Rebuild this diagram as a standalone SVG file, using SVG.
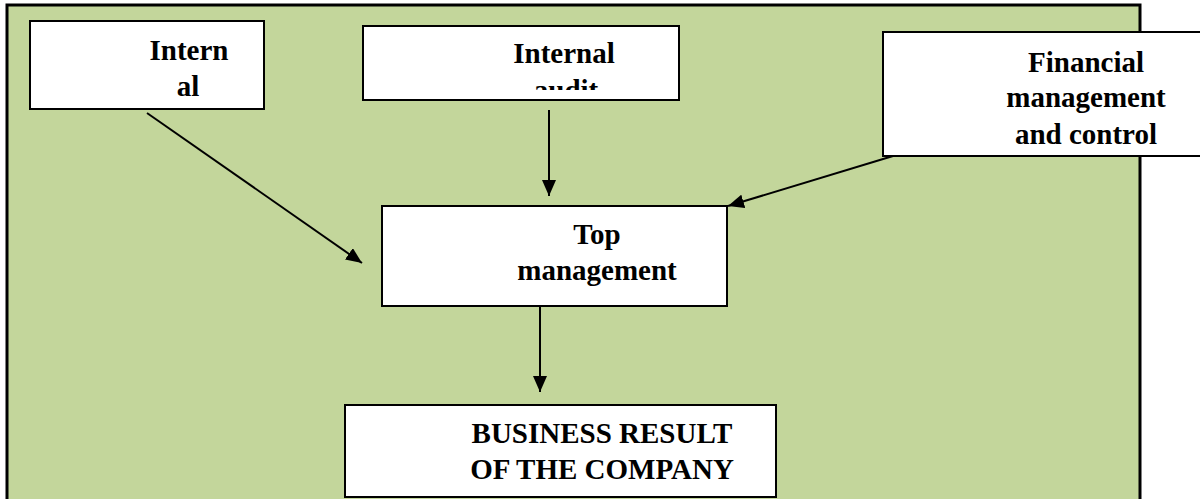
<svg xmlns="http://www.w3.org/2000/svg" width="1200" height="499" viewBox="0 0 1200 499">
  <style>
    .box { fill: #ffffff; stroke: #000000; stroke-width: 2; }
    .lbl { font-family: "Liberation Serif", "Times New Roman", serif; font-weight: bold; font-size: 29px; fill: #000000; text-anchor: middle; }
    .conn { stroke: #000000; stroke-width: 2; fill: none; marker-end: url(#arrow); }
  </style>
  <defs>
    <marker id="arrow" markerUnits="userSpaceOnUse" markerWidth="18" markerHeight="14" refX="16" refY="7" orient="auto">
      <path d="M0,0 L16,7 L0,14 Z" fill="#000000"/>
    </marker>
    <clipPath id="clipAudit">
      <rect x="364" y="27" width="314" height="63"/>
    </clipPath>
  </defs>
  <rect x="0" y="0" width="1200" height="499" fill="#ffffff"/>
  <rect id="background" x="7" y="5" width="1133" height="520" fill="#c3d69b" stroke="#000000" stroke-width="3"/>

  <g id="node-internal">
    <rect class="box" x="30" y="21" width="234" height="88"/>
    <text class="lbl" x="189" y="60">Intern</text>
    <text class="lbl" x="188" y="96">al</text>
  </g>

  <g id="node-internal-audit">
    <rect class="box" x="363" y="26" width="316" height="74"/>
    <g clip-path="url(#clipAudit)">
      <text class="lbl" x="564" y="63">Internal</text>
      <text class="lbl" x="566" y="100">audit</text>
    </g>
  </g>

  <g id="node-financial">
    <rect class="box" x="883" y="32" width="330" height="124"/>
    <text class="lbl" x="1086" y="72">Financial</text>
    <text class="lbl" x="1086" y="107">management</text>
    <text class="lbl" x="1086" y="144">and control</text>
  </g>

  <g id="node-top">
    <rect class="box" x="382" y="206" width="345" height="100"/>
    <text class="lbl" x="597" y="244">Top</text>
    <text class="lbl" x="597" y="280">management</text>
  </g>

  <g id="node-business">
    <rect class="box" x="345" y="405" width="431" height="92"/>
    <text class="lbl" x="602" y="443">BUSINESS RESULT</text>
    <text class="lbl" x="602" y="479">OF THE COMPANY</text>
  </g>

  <g id="connectors">
    <line class="conn" x1="147" y1="113" x2="362" y2="263"/>
    <line class="conn" x1="549" y1="110" x2="549" y2="196"/>
    <line class="conn" x1="893" y1="156" x2="728" y2="206"/>
    <line class="conn" x1="540" y1="307" x2="540" y2="392"/>
  </g>
</svg>
